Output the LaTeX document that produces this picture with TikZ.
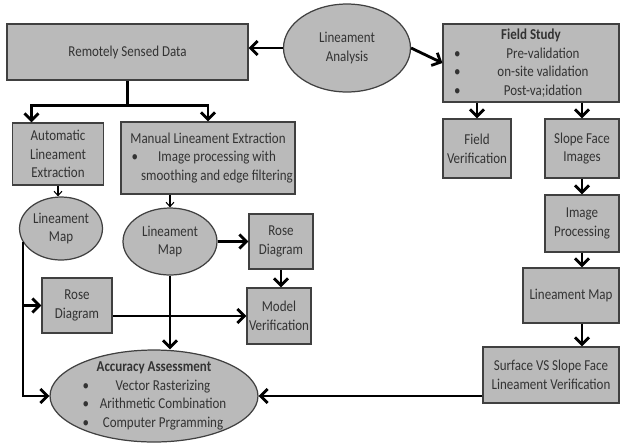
\documentclass[tikz,border=0pt]{standalone}
\usepackage{fontspec}
\setmainfont[FakeStretch=0.86]{Carlito}
\usetikzlibrary{positioning,shapes.geometric,arrows.meta}

% bullet line: bullet column, text column, text
\newcommand{\bulrow}[3]{\makebox[#1][l]{\textbullet}\makebox[#2]{#3}}

\begin{document}
\begin{tikzpicture}[x=0.02cm,y=-0.02cm,
  font=\fontsize{8.6}{10.6}\selectfont,
  graybox/.style={rectangle,draw=black!75,fill=black!27,line width=0.7pt,
    inner sep=1pt,align=center,text=black!80},
  grayoval/.style={ellipse,draw=black!75,fill=black!27,line width=0.7pt,
    inner sep=0pt,align=center,text=black!80},
  flow/.style={line width=1.6pt,-{Straight Barb[length=4pt,width=8pt]}},
  thinflow/.style={line width=0.6pt,-{Straight Barb[length=2.5pt,width=4.5pt]}}]
\useasboundingbox (0,0) rectangle (622,444);

% top row
\node[graybox,minimum width=4.82cm,minimum height=1.12cm] (rsd) at (127.5,52) {Remotely Sensed Data};
\node[grayoval,minimum width=2.54cm,minimum height=1.76cm] (ana) at (347,48) {Lineament\\Analysis};
\node[graybox,minimum width=3.52cm,minimum height=1.56cm] (field) at (531,63)
  {\textbf{Field Study}\\ \bulrow{0.48cm}{2.6cm}{Pre-validation}\\
   \bulrow{0.48cm}{2.6cm}{on-site validation}\\ \bulrow{0.48cm}{2.6cm}{Post-va;idation}};

% left branch
\node[graybox,minimum width=1.82cm,minimum height=1.24cm] (auto) at (58,154) {Automatic\\Lineament\\Extraction};
\node[graybox,minimum width=3.48cm,minimum height=1.44cm] (manual) at (208,158)
  {Manual Lineament Extraction\\ \bulrow{0.36cm}{2.7cm}{Image processing with}\\
   \makebox[0.36cm]{}\makebox[2.7cm]{smoothing and edge filtering}};
\node[grayoval,minimum width=1.66cm,minimum height=1.26cm] (lm1) at (61,228.5) {Lineament\\Map};
\node[grayoval,minimum width=1.88cm,minimum height=1.34cm] (lm2) at (170,241.5) {Lineament\\Map};
\node[graybox,minimum width=1.28cm,minimum height=1.10cm] (rose2) at (281,241.5) {Rose\\Diagram};
\node[graybox,minimum width=1.28cm,minimum height=1.12cm] (model) at (279,316) {Model\\Verification};
\node[graybox,minimum width=1.40cm,minimum height=1.10cm] (rose1) at (77,305.5) {Rose\\Diagram};
\node[grayoval,minimum width=4.16cm,minimum height=1.84cm,
  label={[align=center,text=black!80]center:{\textbf{Accuracy Assessment}\\
   \bulrow{0.36cm}{2.5cm}{Vector Rasterizing}\\ \bulrow{0.36cm}{2.5cm}{Arithmetic Combination}\\
   \bulrow{0.36cm}{2.5cm}{Computer Prgramming}}}] (acc) at (154,396) {};

% right branch
\node[graybox,minimum width=1.36cm,minimum height=1.18cm] (fver) at (477,148.5) {Field\\Verification};
\node[graybox,minimum width=1.48cm,minimum height=1.18cm] (sfi) at (582,148.5) {Slope Face\\Images};
\node[graybox,minimum width=1.48cm,minimum height=1.14cm] (imp) at (582,223.5) {Image\\Processing};
\node[graybox,minimum width=1.92cm,minimum height=1.10cm] (lmr) at (571,295.5) {Lineament Map};
\node[graybox,minimum width=2.72cm,minimum height=1.12cm] (svs) at (551,375) {Surface VS Slope Face\\Lineament Verification};

% connectors
\draw[flow] (ana.west) -- (ana.west -| rsd.east);
\draw[flow] (ana.east) -- (field.west);
\draw[line width=1.6pt] (rsd.south) -- ++(0,25) coordinate (split);
\draw[flow] (split) -| (auto.130);
\draw[flow] (split) -| (manual.north);
\draw[thinflow] (auto.south) -- (auto.south |- lm1.north);
\draw[thinflow] (manual.south -| lm2.north) -- (lm2.north);
\draw[flow] (lm2.east) -- (rose2.west);
\draw[flow] (rose2.south) -- (rose2.south |- model.north);
\draw[flow] (lm1.200) |- (acc.west);
\draw[flow] (lm1.200 |- rose1.west) -- (rose1.west);
\draw[flow] (rose1.east |- model.west) -- (model.west);
\draw[flow] (lm2.south) -- (lm2.south |- acc.north);
\draw[flow] (field.south -| fver.north) -- (fver.north);
\draw[flow] (field.south -| sfi.north) -- (sfi.north);
\draw[flow] (sfi.south) -- (imp.north);
\draw[flow] (imp.south) -- (imp.south |- lmr.north);
\draw[flow] (imp.south |- lmr.south) -- (imp.south |- svs.north);
\draw[flow] (svs.west |- acc.east) -- (acc.east);
\end{tikzpicture}
\end{document}
